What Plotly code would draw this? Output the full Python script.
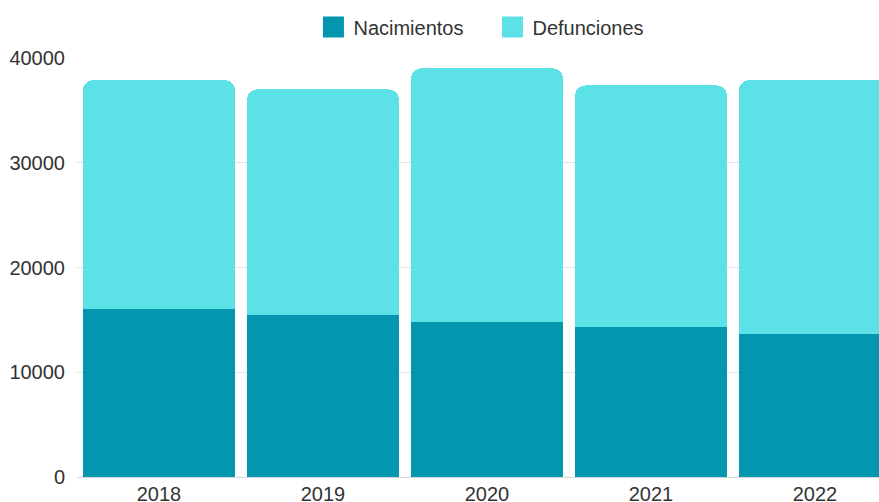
import plotly.graph_objects as go

years = ["2018", "2019", "2020", "2021", "2022"]
nacimientos = [16050, 15470, 14750, 14300, 13660]
defunciones = [21840, 21530, 24260, 23080, 24230]
y_ticks = [0, 10000, 20000, 30000, 40000]

c_nac = "#0396AE"
c_def = "#5CE1E6"
font = dict(family="Liberation Sans, Arial, sans-serif", size=20, color="#333333")

fig = go.Figure()
fig.add_trace(go.Bar(x=years, y=nacimientos, name="Nacimientos", marker_color=c_nac,
                     marker_line_width=0, showlegend=False))
fig.add_trace(go.Bar(x=years, y=defunciones, name="Defunciones", marker_color=c_def,
                     marker_line_width=0, showlegend=False))
# legend proxies
for name, col in [("Nacimientos", c_nac), ("Defunciones", c_def)]:
    fig.add_trace(go.Scatter(x=[None], y=[None], mode="markers", name=name,
                             marker=dict(symbol="square", size=16, color=col,
                                         line=dict(width=8, color=col))))

W, H = 879, 502
L, R, T, B = 77, 0, 58, 25.3
cat_px = 164
plot_w = W - L - R
fig.update_layout(
    width=W, height=H,
    margin=dict(l=L, r=R, t=T, b=B, autoexpand=False),
    barmode="stack",
    bargap=12 / cat_px,
    barcornerradius=10,
    plot_bgcolor="white", paper_bgcolor="white",
    font=font,
    legend=dict(orientation="h", x=0.518, xanchor="center", xref="paper",
                y=1 - 27 / H, yref="container", yanchor="middle",
                traceorder="normal", entrywidth=134, entrywidthmode="pixels",
                font=font, itemsizing="trace", bgcolor="rgba(0,0,0,0)"),
    xaxis=dict(type="category", range=[-0.5, -0.5 + plot_w / cat_px],
               showgrid=False, showline=False, ticks="", ticklabelstandoff=3,
               tickfont=font, automargin=False),
    yaxis=dict(range=[0, 40000], tickvals=y_ticks, ticktext=[str(v) for v in y_ticks],
               showgrid=True, gridcolor="#e3e3e3", gridwidth=1,
               zeroline=True, zerolinecolor="#d6d6d6", zerolinewidth=1,
               showline=False, ticks="", ticklabelstandoff=11, tickfont=font,
               automargin=False),
)

fig.write_html(
    "out.html",
    config={"displayModeBar": False},
    post_script="document.body.style.margin='0';document.body.style.overflow='hidden';",
)
